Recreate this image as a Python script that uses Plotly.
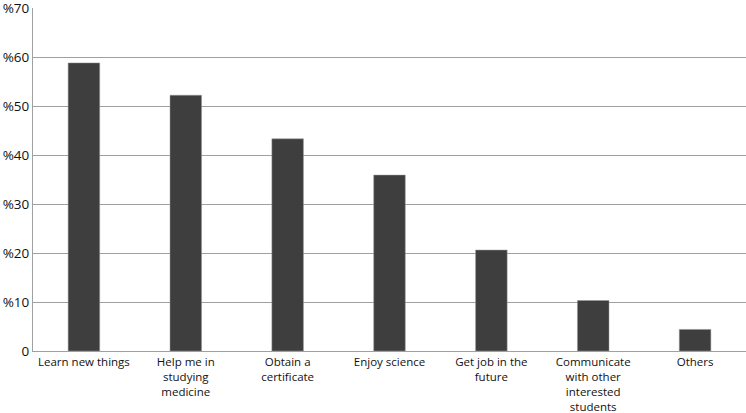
import plotly.graph_objects as go

# Reasons for taking part (percent of respondents)
categories = ["Learn new things",
              "Help me in<br>studying<br>medicine",
              "Obtain a<br>certificate",
              "Enjoy science",
              "Get job in the<br>future",
              "Communicate<br>with other<br>interested<br>students",
              "Others"]
percent = [58.8, 52.2, 43.3, 35.9, 20.6, 10.3, 4.4]

y_ticks = [0, 10, 20, 30, 40, 50, 60, 70]
y_tick_labels = ["0", "%10", "%20", "%30", "%40", "%50", "%60", "%70"]

fig = go.Figure()
fig.add_trace(go.Bar(x=categories, y=percent,
                     width=0.31,
                     marker_color="#3e3e3e",
                     marker_line_color="#9a9a9a",
                     marker_line_width=0.5))

fig.update_layout(width=746, height=413,
                  margin=dict(l=33, r=0, t=8, b=62, pad=0),
                  plot_bgcolor="white",
                  paper_bgcolor="white",
                  showlegend=False,
                  font=dict(family="Open Sans", size=12, color="#111111"))

fig.update_yaxes(range=[0, 70],
                 tickvals=y_ticks,
                 ticktext=y_tick_labels,
                 showgrid=True, gridcolor="#a0a0a0", gridwidth=1,
                 showline=True, linecolor="#a0a0a0", linewidth=1,
                 ticks="", ticklen=0,
                 tickfont=dict(size=13.5),
                 ticklabeloverflow="allow",
                 automargin=False,
                 zeroline=False)

fig.update_xaxes(showline=True, linecolor="#a0a0a0", linewidth=1,
                 ticks="", tickangle=0,
                 tickfont=dict(size=11.5),
                 ticklabeloverflow="allow",
                 automargin=False)

# drop the page's default body margin so the figure sits at the corner
fig.write_html("out.html", config={"displayModeBar": False},
               post_script="document.body.style.margin='0';")
